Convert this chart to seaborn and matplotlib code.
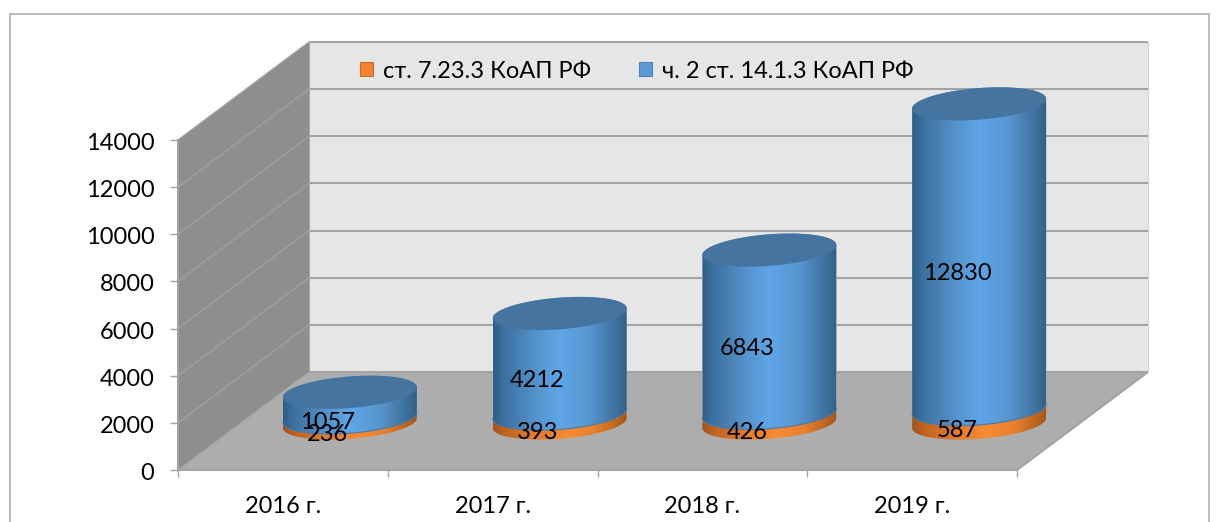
import numpy as np
import matplotlib
matplotlib.use("Agg")
import matplotlib.pyplot as plt
import seaborn as sns
from matplotlib.colors import LinearSegmentedColormap
from matplotlib.lines import Line2D
from matplotlib.patches import Patch, Polygon
from matplotlib.transforms import Affine2D

# data
years = ["2016 г.", "2017 г.", "2018 г.", "2019 г."]
art_7233 = [236, 393, 426, 587]
art_1413 = [1057, 4212, 6843, 12830]
y_ticks = [0, 2000, 4000, 6000, 8000, 10000, 12000, 14000]
series_names = ["ст. 7.23.3 КоАП РФ", "ч. 2 ст. 14.1.3 КоАП РФ"]

W, H = 1219, 522
sns.set_theme(style="white")
plt.rcParams["font.family"] = ["Lato", "Noto Sans", "DejaVu Sans"]
FS = 17
GRID = "#a3a3a3"


def px_axes(fig, left, top, right, bottom):
    return fig.add_axes([left / W, 1 - bottom / H, (right - left) / W, (bottom - top) / H])


fig = plt.figure(figsize=(W / 100, H / 100), dpi=100, facecolor="white")

# outer frame, bottom edge falls off the picture
for xs, ys in [([9.5, 9.5], [0, 508]), ([9.5, 1209], [508, 508]), ([1209, 1209], [508, 0])]:
    fig.add_artist(Line2D(np.array(xs) / W, np.array(ys) / H, color="#a8a8a8", lw=1.1))

# front plane carrying the axis
ax = px_axes(fig, 178, 140, 1017, 470)
ax.patch.set_alpha(0)
xmin, xmax = -0.5, 3.5
ymax = y_ticks[-1]
dx = 131 / (839 / 4)
dy = 98 / (330 / ymax)

ax.fill([xmin, xmin + dx, xmin + dx, xmin], [0, dy, ymax + dy, ymax], color="#8e8e8e", clip_on=False, lw=0, zorder=1)
ax.fill([xmin + dx, xmax + dx, xmax + dx, xmin + dx], [dy, dy, ymax + dy, ymax + dy], color="#e6e6e6", clip_on=False, lw=0, zorder=1)
ax.fill([xmin, xmax, xmax + dx, xmin + dx], [0, 0, dy, dy], color="#adadad", clip_on=False, lw=0, zorder=1)
for v in y_ticks:
    ax.plot([xmin + dx, xmax + dx], [v + dy, v + dy], color=GRID, lw=1.5, clip_on=False, zorder=2, solid_capstyle="butt")
    ax.plot([xmin, xmin + dx], [v, v + dy], color="#a0a0a0" if v else GRID, lw=1.0, clip_on=False, zorder=2)
ax.plot([xmax, xmax + dx], [0, dy], color=GRID, lw=1.5, clip_on=False, zorder=2)
ax.plot([xmax + dx, xmax + dx], [dy, ymax + dy], color="#d2d2d2", lw=0.8, clip_on=False, zorder=2)
ax.plot([xmin + dx, xmin + dx], [dy, ymax + dy], color="#a8a8a8", lw=0.8, clip_on=False, zorder=2)

ax.set_xlim(xmin, xmax)
ax.set_ylim(0, ymax)
ax.set_yticks(y_ticks)
ax.set_yticks(np.arange(0, ymax, 400), minor=True)
ax.set_xticks(np.arange(xmin, xmax + 1))
ax.set_xticks(range(len(years)), minor=True)
ax.set_xticklabels([])
ax.set_xticklabels(years, minor=True)
ax.tick_params(axis="x", which="major", length=5, width=1, color=GRID, bottom=True)
ax.tick_params(axis="x", which="minor", length=0, pad=18.5, labelsize=FS, labelcolor="black")
ax.tick_params(axis="y", which="major", length=6, width=1, color=GRID, left=True, pad=11, labelsize=FS, labelcolor="black")
ax.tick_params(axis="y", which="minor", length=6, width=0.8, color="#a3a3a3", direction="in", left=True)
for lab in ax.get_yticklabels():
    lab.set_transform(lab.get_transform() + Affine2D().translate(0, -1.5))
for s in ["top", "right"]:
    ax.spines[s].set_visible(False)
for s in ["left", "bottom"]:
    ax.spines[s].set_color(GRID)
    ax.spines[s].set_linewidth(1.5)

# legend sits on the back wall
handles = [Patch(facecolor="#f58233", edgecolor="#c8692a", lw=0.8), Patch(facecolor="#5b9bd5", edgecolor="#4a85ba", lw=0.8)]
fig.legend(handles, series_names, ncol=2, frameon=False, fontsize=FS, labelcolor="black",
           handlelength=0.55, handleheight=0.55, handletextpad=0.42, columnspacing=2.03,
           loc="center left", bbox_to_anchor=(360 / W, 1 - 71 / H), borderpad=0, borderaxespad=0)

# cylinders live half way into the depth of the box
ax2 = px_axes(fig, 245, 90, 1084, 423)
ax2.patch.set_alpha(0)
totals = [a + b for a, b in zip(art_7233, art_1413)]
bar_w = 134 / (839 / 4)
sns.barplot(x=years, y=totals, color="#5b9bd5", width=bar_w, ax=ax2, saturation=1)
sns.barplot(x=years, y=art_7233, color="#f58233", width=bar_w, ax=ax2, saturation=1)
ax2.set_xlim(xmin, xmax)
ax2.set_ylim(0, ymax)
ax2.axis("off")
ax2.autoscale(False)

v_per_px = ymax / 333
A = bar_w / 2
B = 15.8 * v_per_px
S = 5.0 * v_per_px
t_low = np.linspace(np.pi, 2 * np.pi, 80)
t_up = np.linspace(2 * np.pi, 3 * np.pi, 80)


def arc(i, v, t):
    return np.column_stack([i + A * np.cos(t), v + B * np.sin(t) + S * np.cos(t)])


blue_cm = LinearSegmentedColormap.from_list("b", [(0, "#2f5c84"), (0.07, "#3b6f9e"), (0.3, "#5390c8"), (0.5, "#5fa6e8"), (0.72, "#5795cf"), (0.93, "#3e6f9b"), (1, "#345f84")])
orange_cm = LinearSegmentedColormap.from_list("o", [(0, "#a2541e"), (0.1, "#c2651f"), (0.3, "#e07a2d"), (0.55, "#f78a33"), (0.75, "#ea812f"), (0.93, "#b9641f"), (1, "#a1561f")])
ramp = np.linspace(0, 1, 256).reshape(1, -1)


def cylinder_side(bar, i, v0, v1, cmap, z):
    body = Polygon(np.vstack([arc(i, v0, t_low), arc(i, v1, t_up)]), transform=ax2.transData, fc="none", ec="none")
    ax2.add_patch(body)
    im = ax2.imshow(ramp, cmap=cmap, aspect="auto", zorder=z,
                    extent=[i - A, i + A, -0.1 * ymax, 1.05 * ymax])
    im.set_clip_box(fig.bbox)
    im.set_clip_path(body)
    bar.set_clip_path(body)


for i in range(len(years)):
    bar_total = ax2.containers[0][i]
    bar_low = ax2.containers[1][i]
    cylinder_side(bar_low, i, 0, art_7233[i], orange_cm, 3)
    cylinder_side(bar_total, i, art_7233[i], totals[i], blue_cm, 4)
    seam = arc(i, art_7233[i], t_low)
    ax2.plot(seam[:, 0], seam[:, 1], color="#4a7aa6", lw=0.8, zorder=5, clip_on=False)
    cap = np.vstack([arc(i, totals[i], t_low), arc(i, totals[i], t_up)])
    ax2.fill(cap[:, 0], cap[:, 1], color="#44749f", lw=0, zorder=5, clip_on=False)
    ax2.annotate(str(art_7233[i]), (i, art_7233[i] / 2), xytext=(-16, -10.5), textcoords="offset points",
                 ha="center", va="center", fontsize=FS, color="black", zorder=6, annotation_clip=False)
    ax2.annotate(str(art_1413[i]), (i, art_7233[i] + art_1413[i] / 2), xytext=(-16, -12.5), textcoords="offset points",
                 ha="center", va="center", fontsize=FS, color="black", zorder=6, annotation_clip=False)

ax2.set_xlim(xmin, xmax)
ax2.set_ylim(0, ymax)

fig.savefig("out.png", dpi=100)
